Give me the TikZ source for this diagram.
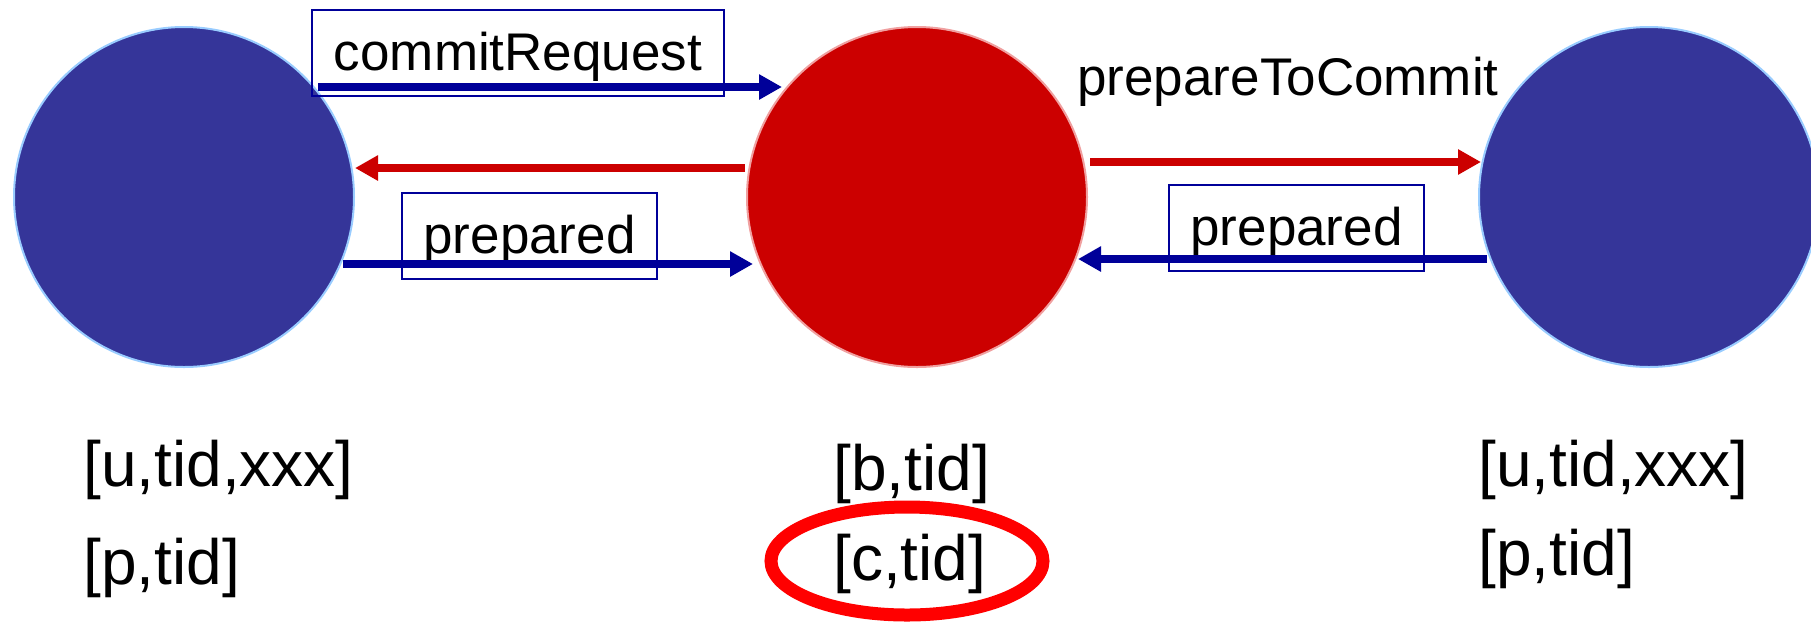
\documentclass[tikz,border=0pt]{standalone}
\usepackage{fontspec}
\setmainfont{Liberation Sans}
\usetikzlibrary{arrows.meta,shapes.geometric}
\definecolor{procblue}{HTML}{353599}
\definecolor{procedge}{HTML}{99CCFF}
\definecolor{coordred}{HTML}{CC0000}
\definecolor{coordedge}{HTML}{F0A0A0}
\definecolor{msgblue}{HTML}{000099}
\definecolor{hlred}{HTML}{FF0000}
\tikzset{
  partnode/.style={circle, fill=procblue, draw=procedge, line width=1pt, minimum size=170pt, inner sep=0pt},
  coordnode/.style={circle, fill=coordred, draw=coordedge, line width=1pt, minimum size=170pt, inner sep=0pt},
  msgfont/.style={font=\fontsize{26.5}{30}\selectfont},
  lblfont/.style={font=\fontsize{32}{36}\selectfont},
  msgbox/.style={msgfont, draw=msgblue, line width=1pt, inner xsep=0pt, inner ysep=0pt, text height=30pt, text depth=13pt, align=center, anchor=base west},
  msgtext/.style={msgfont, inner sep=0pt, anchor=base west},
  lbl/.style={lblfont, inner sep=0pt, anchor=base west},
  bluearrow/.style={draw=msgblue, line width=4pt, -{Triangle[length=11.5pt,width=12pt]}},
  redarrow/.style={draw=coordred, line width=4pt, -{Triangle[length=11.5pt,width=12pt]}},
  highlight/.style={ellipse, draw=hlred, line width=6.5pt, minimum width=136pt, minimum height=54pt, inner sep=0pt}
}
\begin{document}
\begin{tikzpicture}[x=0.5pt,y=-0.5pt]
\useasboundingbox (0,0) rectangle (1811,623);
\clip (0,0) rectangle (1811,623);
% participants
\node[partnode] (P1) at (184,197) {};
\node[coordnode] (C) at (917,197) {};
\node[partnode] (P2) at (1649,197) {};
% message boxes
\node[msgbox, minimum width=206pt] (cr) at (311,70) {commitRequest};
\node[msgbox, minimum width=127.5pt] (prl) at (401,253) {prepared};
\node[msgbox, minimum width=127.5pt] (prr) at (1168,245) {prepared};
\node[msgtext] (ptc) at (1077,95) {prepareToCommit};
% arrow end points
\coordinate (a1s) at (318,87);   \coordinate (a1e) at (782,87);
\coordinate (a2s) at (745,168);  \coordinate (a2e) at (355,168);
\coordinate (a3s) at (343,264);  \coordinate (a3e) at (753,264);
\coordinate (a4s) at (1090,162); \coordinate (a4e) at (1481,162);
\coordinate (a5s) at (1487,259); \coordinate (a5e) at (1078,259);
\draw[bluearrow] (a1s) -- (a1e);
\draw[redarrow] (a2s) -- (a2e);
\draw[bluearrow] (a3s) -- (a3e);
\draw[redarrow] (a4s) -- (a4e);
\draw[bluearrow] (a5s) -- (a5e);
% state labels
\node[lbl] (l1a) at (83,486) {[u,tid,xxx]};
\node[lbl] (l1b) at (83,584) {[p,tid]};
\node[lbl] (lca) at (833,490) {[b,tid]};
\node[lbl] (lcb) at (833,580) {[c,tid]};
\node[lbl] (l2a) at (1478,486) {[u,tid,xxx]};
\node[lbl] (l2b) at (1478,575) {[p,tid]};
\node[highlight] (hl) at (907,561) {};
\end{tikzpicture}
\end{document}
